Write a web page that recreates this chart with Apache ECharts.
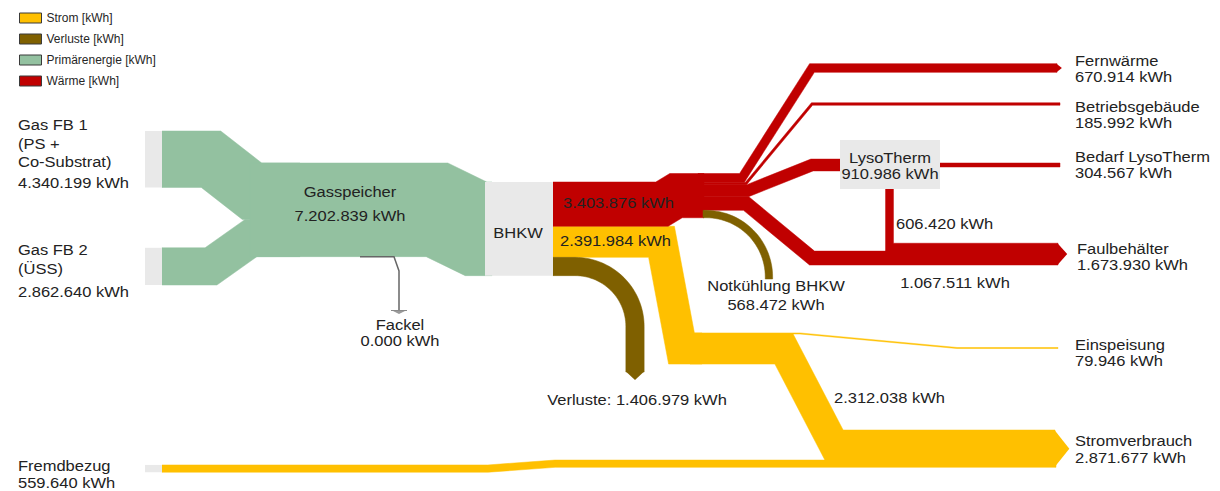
<!DOCTYPE html>
<html><head><meta charset="utf-8">
<script src="https://cdn.jsdelivr.net/npm/echarts@6/dist/echarts.min.js"></script>
<style>html,body{margin:0;padding:0;background:#fff}#c{width:1220px;height:491px}</style>
</head><body><div id="c"></div>
<script>
// ================= DATA =================
const typeNames = ['Strom [kWh]', 'Verluste [kWh]', 'Primärenergie [kWh]', 'Wärme [kWh]'];

const linkSource = ['Gas FB 1', 'Gas FB 2', 'Gasspeicher', 'Gasspeicher', 'BHKW', 'BHKW', 'BHKW',
  'Wärme', 'Wärme', 'Wärme', 'Wärme', 'Wärme', 'LysoTherm', 'LysoTherm', 'Strom', 'Strom', 'Fremdbezug'];
const linkTarget = ['Gasspeicher', 'Gasspeicher', 'BHKW', 'Fackel', 'Wärme', 'Strom', 'Verluste',
  'Fernwärme', 'Betriebsgebäude', 'LysoTherm', 'Faulbehälter', 'Notkühlung BHKW', 'Bedarf LysoTherm', 'Faulbehälter',
  'Einspeisung', 'Stromverbrauch', 'Stromverbrauch'];
const linkValue = [4340199, 2862640, 7202839, 0, 3403876, 2391984, 1406979,
  670914, 185992, 910986, 1067511, 568472, 304567, 606420, 79946, 2312038, 559640];
const linkType = ['Primärenergie [kWh]', 'Primärenergie [kWh]', 'Primärenergie [kWh]', 'Primärenergie [kWh]',
  'Wärme [kWh]', 'Strom [kWh]', 'Verluste [kWh]',
  'Wärme [kWh]', 'Wärme [kWh]', 'Wärme [kWh]', 'Wärme [kWh]', 'Verluste [kWh]', 'Wärme [kWh]', 'Wärme [kWh]',
  'Strom [kWh]', 'Strom [kWh]', 'Strom [kWh]'];

const nodeIds = ['Gas FB 1', 'Gas FB 2', 'Gasspeicher', 'Fackel', 'BHKW', 'Fernwärme', 'Betriebsgebäude',
  'LysoTherm', 'Bedarf LysoTherm', 'Faulbehälter', 'Notkühlung BHKW', 'Einspeisung', 'Stromverbrauch', 'Fremdbezug'];
const nodeText = ['Gas FB 1\n(PS +\nCo-Substrat)', 'Gas FB 2\n(ÜSS)', 'Gasspeicher', 'Fackel', 'BHKW', 'Fernwärme', 'Betriebsgebäude',
  'LysoTherm', 'Bedarf LysoTherm', 'Faulbehälter', 'Notkühlung BHKW', 'Einspeisung', 'Stromverbrauch', 'Fremdbezug'];
const nodeValue = [4340199, 2862640, 7202839, 0, null, 670914, 185992,
  910986, 304567, 1673930, 568472, 79946, 2871677, 559640];

// ================= STYLE / LAYOUT =================
const PX_PER_KWH = 13 / 1e6;
const TYPE_COLOR = {
  'Strom [kWh]': '#ffc000', 'Verluste [kWh]': '#7f6000',
  'Primärenergie [kWh]': '#93c1a0', 'Wärme [kWh]': '#c00000'
};
const BOX_COLOR = '#e9e9e9';
const FONT = 'Liberation Sans, Arial, sans-serif';
const TXT = '#222222';

function fmt(v) {
  if (v === 0) return '0.000 kWh';
  return String(v).replace(/\B(?=(\d{3})+(?!\d))/g, '.') + ' kWh';
}
function li(s, t) { for (let i = 0; i < linkSource.length; i++) if (linkSource[i] === s && linkTarget[i] === t) return i; return -1; }
function T(i) { return linkValue[i] * PX_PER_KWH; }
function arc(cx, cy, r, a0, a1, n) {
  const out = [];
  for (let k = 1; k <= n; k++) { const a = (a0 + (a1 - a0) * k / n) * Math.PI / 180; out.push([cx + r * Math.cos(a), cy + r * Math.sin(a)]); }
  return out;
}
function normal(a, b) { const dx = b[0] - a[0], dy = b[1] - a[1], l = Math.hypot(dx, dy); return [-dy / l, dx / l]; }
function bandPolygon(pts, t) {
  const h = t / 2, left = [], right = [];
  for (let i = 0; i < pts.length; i++) {
    const nP = i > 0 ? normal(pts[i - 1], pts[i]) : null;
    const nN = i < pts.length - 1 ? normal(pts[i], pts[i + 1]) : null;
    let mx, my, s;
    if (nP && nN) {
      mx = nP[0] + nN[0]; my = nP[1] + nN[1];
      const l = Math.hypot(mx, my); mx /= l; my /= l;
      s = h / (mx * nN[0] + my * nN[1]);
    } else { const n = nP || nN; mx = n[0]; my = n[1]; s = h; }
    left.push([pts[i][0] + mx * s, pts[i][1] + my * s]);
    right.push([pts[i][0] - mx * s, pts[i][1] - my * s]);
  }
  return left.concat(right.reverse());
}

// routes (layout) – thicknesses derived from the values
const ROUTES = {}, BOXES = {}, NODE_POS = {}, LINK_LABEL = {};
(function buildLayout() {
  const iFB1 = li('Gas FB 1', 'Gasspeicher'), iFB2 = li('Gas FB 2', 'Gasspeicher'), iGS = li('Gasspeicher', 'BHKW'),
    iFa = li('Gasspeicher', 'Fackel'), iH = li('BHKW', 'Wärme'), iS = li('BHKW', 'Strom'), iV = li('BHKW', 'Verluste'),
    iFe = li('Wärme', 'Fernwärme'), iBe = li('Wärme', 'Betriebsgebäude'), iLy = li('Wärme', 'LysoTherm'),
    iF1 = li('Wärme', 'Faulbehälter'), iNo = li('Wärme', 'Notkühlung BHKW'), iBL = li('LysoTherm', 'Bedarf LysoTherm'),
    iF2 = li('LysoTherm', 'Faulbehälter'), iEi = li('Strom', 'Einspeisung'), iSV = li('Strom', 'Stromverbrauch'),
    iFr = li('Fremdbezug', 'Stromverbrauch');
  const x0 = 162, stubX = 145, stubW = 17;
  const tFB1 = T(iFB1), tFB2 = T(iFB2), tGS = T(iGS);
  const gsTop = 163, bTop = 182;
  ROUTES[iFB1] = { pts: [[x0, 131 + tFB1 / 2], [211, 131 + tFB1 / 2], [252, gsTop + tFB1 / 2], [300, gsTop + tFB1 / 2]] };
  ROUTES[iFB2] = { pts: [[x0, 285 - tFB2 / 2], [211, 285 - tFB2 / 2], [251, gsTop + tGS - tFB2 / 2], [300, gsTop + tGS - tFB2 / 2]] };
  ROUTES[iGS] = { pts: [[250, gsTop + tGS / 2], [437, gsTop + tGS / 2], [476, bTop + tGS / 2], [492, bTop + tGS / 2]] };
  ROUTES[iFa] = { line: [[360, gsTop + tGS], [394, gsTop + tGS], [399, 271], [399, 310]], tip: [399, 310] };

  const tH = T(iH), tS = T(iS), tV = T(iV);
  const cH = bTop + tH / 2, cH2 = cH - 8.5;
  ROUTES[iH] = { pts: [[553, cH], [662, cH], [676, cH2], [704, cH2]] };
  const cS = bTop + tH + tS / 2, yS = 348.5;
  ROUTES[iS] = { pts: [[553, cS], [661.5, cS], [681.5, yS], [702, yS]] };
  const cV = bTop + tH + tS + tV / 2, rV = 60;
  ROUTES[iV] = { pts: [[553, cV], [575, cV]].concat(arc(575, cV + rV, rV, -90, 0, 30)).concat([[575 + rV, 372]]),
    arrow: { dir: 'down', x: 575 + rV, y: 372, t: tV } };

  let y = cH2 - tH / 2;
  const tFe = T(iFe); ROUTES[iFe] = { pts: [[698, y + tFe / 2], [742, y + tFe / 2], [812, 68], [1057, 68]], arrow: { dir: 'right', x: 1057, y: 68, t: tFe } }; y += tFe;
  const tBe = T(iBe); ROUTES[iBe] = { pts: [[698, y + tBe / 2], [746, y + tBe / 2], [812, 104], [1060, 104]] }; y += tBe;
  const tLy = T(iLy); ROUTES[iLy] = { pts: [[698, y + tLy / 2], [748, y + tLy / 2], [812, 165], [842, 165]] }; y += tLy;
  const tF1 = T(iF1), tF2 = T(iF2), yFB = 265;
  ROUTES[iF1] = { pts: [[698, y + tF1 / 2], [746, y + tF1 / 2], [812, yFB - tF1 / 2], [1058, yFB - tF1 / 2]],
    arrow: { dir: 'right', x: 1058, y: yFB - (tF1 + tF2) / 2, t: tF1 + tF2 } }; y += tF1;
  const tNo = T(iNo), cN = y + tNo / 2, cyN = 277, rN = cyN - cN;
  ROUTES[iNo] = { pts: [[703, cN], [706, cN]].concat(arc(706, cyN, rN, -90, 0, 30)).concat([[706 + rN, 279]]) };
  ROUTES[iBL] = { pts: [[938, 165], [1060, 165]] };
  ROUTES[iF2] = { pts: [[889.5, 188], [889.5, yFB - tF1 - tF2 / 2], [1058, yFB - tF1 - tF2 / 2]] };

  let ys = yS - tS / 2;
  const tEi = T(iEi); ROUTES[iEi] = { pts: [[690, ys + tEi / 2], [800, ys + tEi / 2], [957, 348], [1058, 348]] }; ys += tEi;
  const tSV = T(iSV), tFr = T(iFr), ySV = 430;
  ROUTES[iSV] = { pts: [[690, ys + tSV / 2], [784, ys + tSV / 2], [834, ySV + tSV / 2], [1055, ySV + tSV / 2]],
    arrow: { dir: 'right', x: 1055, y: ySV + (tSV + tFr) / 2, t: tSV + tFr } };
  const cFr = ySV + tSV + tFr / 2;
  ROUTES[iFr] = { pts: [[x0, cFr + 4.9], [488, cFr + 4.9], [555, cFr], [1056, cFr]] };

  BOXES['Gas FB 1'] = [stubX, 131, stubW, tFB1];
  BOXES['Gas FB 2'] = [stubX, 285 - tFB2, stubW, tFB2];
  BOXES['Fremdbezug'] = [stubX, cFr + 4.9 - tFr / 2, stubW, tFr];
  BOXES['BHKW'] = [485, bTop, 68, tGS];
  BOXES['LysoTherm'] = [840, 140, 100, 49];

  // label positions: x, first-line y, value-line y, align
  Object.assign(NODE_POS, {
    'Gas FB 1': [18, 125, 183, 'left'], 'Gas FB 2': [18, 250, 292, 'left'],
    'Gasspeicher': [350, 192, 216, 'center'], 'Fackel': [400, 325, 341, 'center'], 'BHKW': [518, 233, null, 'center'],
    'Fernwärme': [1075, 61, 77, 'left'], 'Betriebsgebäude': [1075, 107, 123, 'left'],
    'LysoTherm': [890, 158, 174, 'center'], 'Bedarf LysoTherm': [1075, 157, 173, 'left'],
    'Faulbehälter': [1077, 248.5, 264.5, 'left'], 'Notkühlung BHKW': [776, 286, 305, 'center'],
    'Einspeisung': [1075, 345, 361, 'left'], 'Stromverbrauch': [1075, 441, 458, 'left'],
    'Fremdbezug': [18, 466, 483, 'left']
  });
  LINK_LABEL[iH] = [563, 203, 'left', false];
  LINK_LABEL[iS] = [560, 241, 'left', false];
  LINK_LABEL[iF2] = [896, 224, 'left', false];
  LINK_LABEL[iF1] = [955, 283, 'center', false];
  LINK_LABEL[iSV] = [834, 398, 'left', false];
  LINK_LABEL[iV] = [637, 400, 'center', true];
})();

// ================= CHART =================
const chart = echarts.init(document.getElementById('c'), null, { renderer: 'svg', width: 1220, height: 491 });

function txt(api, x, y, text, align) {
  const p = api.coord([x, y]);
  return { type: 'text', x: p[0], y: p[1], scaleX: 1.1, scaleY: 1,
    style: { text, x: 0, y: 0, fill: TXT, fontSize: 15, fontFamily: FONT, align, verticalAlign: 'middle' } };
}

function renderFlow(params, api) {
  const i = api.value(0);
  const r = ROUTES[i];
  const color = TYPE_COLOR[linkType[i]];
  const children = [];
  if (r.line) {
    children.push({ type: 'polyline', shape: { points: r.line.map(p => api.coord(p)) }, style: { stroke: '#666666', lineWidth: 1.5, fill: null } });
    const tp = r.tip;
    children.push({ type: 'rect', shape: { x: tp[0] - 8, y: tp[1], width: 16, height: 1 }, style: { fill: '#8a8a8a' } });
    children.push({ type: 'polygon', shape: { points: [[tp[0] - 6, tp[1] + 1], [tp[0] + 6, tp[1] + 1], [tp[0], tp[1] + 4]].map(p => api.coord(p)) }, style: { fill: '#9a9a9a' } });
  } else {
    const t = linkValue[i] * PX_PER_KWH;
    children.push({ type: 'polygon', shape: { points: bandPolygon(r.pts, t).map(p => api.coord(p)) },
      style: { fill: color, stroke: color, lineWidth: 0.5, lineJoin: 'miter' } });
  }
  if (r.arrow) {
    const a = r.arrow, len = 0.33 * a.t + 2;
    const pts = a.dir === 'right'
      ? [[a.x - 0.5, a.y - a.t / 2], [a.x + len, a.y], [a.x - 0.5, a.y + a.t / 2]]
      : [[a.x - a.t / 2, a.y - 0.5], [a.x, a.y + len], [a.x + a.t / 2, a.y - 0.5]];
    children.push({ type: 'polygon', shape: { points: pts.map(p => api.coord(p)) }, style: { fill: color } });
  }
  return { type: 'group', children };
}

function renderNode(params, api) {
  const k = api.value(0);
  const n = nodeIds[k];
  const children = [];
  const b = BOXES[n];
  if (b) {
    const p0 = api.coord([b[0], b[1]]), p1 = api.coord([b[0] + b[2], b[1] + b[3]]);
    children.push({ type: 'rect', shape: { x: p0[0], y: p0[1], width: p1[0] - p0[0], height: p1[1] - p0[1] }, style: { fill: BOX_COLOR } });
  }
  const pos = NODE_POS[n];
  if (pos) {
    nodeText[k].split('\n').forEach((line, j) => children.push(txt(api, pos[0], pos[1] + j * 18.5, line, pos[3])));
    if (pos[2] !== null && nodeValue[k] !== null) children.push(txt(api, pos[0], pos[2], fmt(nodeValue[k]), pos[3]));
  }
  return { type: 'group', children };
}

function renderLinkLabel(params, api) {
  const i = api.value(0);
  const L = LINK_LABEL[i];
  const text = (L[3] ? linkTarget[i] + ': ' : '') + fmt(linkValue[i]);
  return txt(api, L[0], L[1], text, L[2]);
}

const flowSeries = typeNames.map((tn) => ({
  name: tn, type: 'custom', coordinateSystem: 'cartesian2d', renderItem: renderFlow,
  itemStyle: { color: TYPE_COLOR[tn], borderColor: '#3a3a3a', borderWidth: 1 },
  z: tn === 'Verluste [kWh]' ? 3 : 2, silent: true, clip: false,
  data: linkValue.map((v, i) => [i, v]).filter(d => linkType[d[0]] === tn)
}));

chart.setOption({
  animation: false,
  backgroundColor: '#ffffff',
  grid: { left: 0, right: 0, top: 0, bottom: 0 },
  xAxis: { type: 'value', min: 0, max: 1220, show: false },
  yAxis: { type: 'value', min: 0, max: 491, inverse: true, show: false },
  legend: {
    data: typeNames, orient: 'vertical', left: 14, top: 7, itemWidth: 22, itemHeight: 10, itemGap: 9,
    icon: 'rect', selectedMode: false,
    itemStyle: { borderColor: '#3a3a3a', borderWidth: 1 },
    textStyle: { fontSize: 12, color: '#262626', fontFamily: FONT }
  },
  series: flowSeries.concat([
    { name: 'nodes', type: 'custom', coordinateSystem: 'cartesian2d', renderItem: renderNode, z: 5, silent: true, clip: false,
      data: nodeIds.map((n, k) => [k, 0]) },
    { name: 'linkLabels', type: 'custom', coordinateSystem: 'cartesian2d', renderItem: renderLinkLabel, z: 6, silent: true, clip: false,
      data: Object.keys(LINK_LABEL).map(k => [Number(k), linkValue[Number(k)]]) }
  ])
});
</script>
</body></html>
